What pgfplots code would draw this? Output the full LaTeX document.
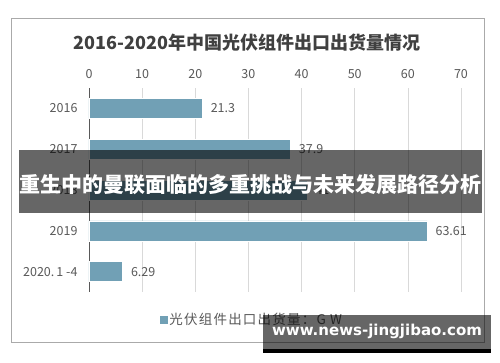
\documentclass[border=0pt]{standalone}
\usepackage{fontspec}
\setmainfont{Noto Sans CJK SC}
\newfontfamily\cjk{Noto Sans CJK SC}
\newfontfamily\cjksp[LetterSpace=9]{Noto Sans CJK SC}
\newfontfamily\dvs{DejaVu Sans}
\usepackage{pgfplots}
\pgfplotsset{compat=1.18}
\definecolor{barc}{RGB}{113,160,181}
\definecolor{txt}{RGB}{89,89,89}
\definecolor{ttl}{RGB}{64,64,64}
\definecolor{frame}{RGB}{170,170,170}
\definecolor{gridc}{RGB}{217,217,217}
\begin{document}
\begin{tikzpicture}
\useasboundingbox (0pt,0pt) rectangle (500pt,362pt);
\fill[white] (0pt,0pt) rectangle (500pt,362pt);
\draw[frame, line width=0.8pt] (11pt,20pt) rectangle (484pt,344pt);
\node[font=\cjk\bfseries\fontsize{18}{20}\selectfont, text=ttl] at (247pt,319pt) {2016-2020年中国光伏组件出口出货量情况};
\begin{axis}[at={(89pt,70pt)}, anchor=south west, scale only axis,
  width=372pt, height=204pt,
  xmin=0, xmax=70, ymin=-0.5, ymax=4.5, y dir=reverse,
  xbar, bar width=20pt,
  axis x line*=top, axis y line*=left,
  x axis line style={draw=none},
  y axis line style={draw=txt, line width=0.8pt, -},
  xtick={0,10,...,70},
  ytick={0,1,2,3,4},
  yticklabels={2016,2017,2018,2019,{2020.\,1\ -4}},
  major tick length=0pt,
  xmajorgrids, grid style={gridc, line width=0.6pt},
  xticklabel style={font=\fontsize{12.5}{14}\selectfont, text=txt, yshift=6pt},
  yticklabel style={font=\fontsize{12.5}{14}\selectfont, text=txt, xshift=-8pt},
  /pgf/number format/assume math mode=true,
  point meta=explicit symbolic,
  nodes near coords,
  every node near coord/.append style={font=\fontsize{12.5}{14}\selectfont, text=txt, anchor=west, xshift=5pt},
  legend style={at={(axis description cs:0.438,-0.137)}, anchor=center, draw=none, fill=none,
    font=\cjksp\fontsize{13.5}{15}\selectfont, text=txt},
  legend image code/.code={\fill[barc] (0pt,-3.5pt) rectangle (7pt,3.5pt);},
]
\addplot[fill=barc, draw=white, line width=0.5pt] coordinates {
 (21.3,0) [21.3]
 (37.9,1) [37.9]
 (41.0,2) [41]
 (63.61,3) [63.61]
 (6.29,4) [6.29]
};
\addlegendentry{光伏组件出口出货量：G W}
\end{axis}
\fill[black, opacity=0.6] (19pt,149pt) rectangle (482pt,212pt);
\node[font=\cjk\bfseries\fontsize{21}{24}\selectfont, text=white] at (250pt,177pt) {重生中的曼联面临的多重挑战与未来发展路径分析};
\fill[black, opacity=0.6] (263pt,13pt) rectangle (491pt,47pt);
\fill[black] (263pt,9pt) rectangle (491pt,13pt);
\node[font=\dvs\bfseries\fontsize{15}{17}\selectfont, text=white] at (377pt,31pt) {www.news-jingjibao.com};
\end{tikzpicture}
\end{document}
